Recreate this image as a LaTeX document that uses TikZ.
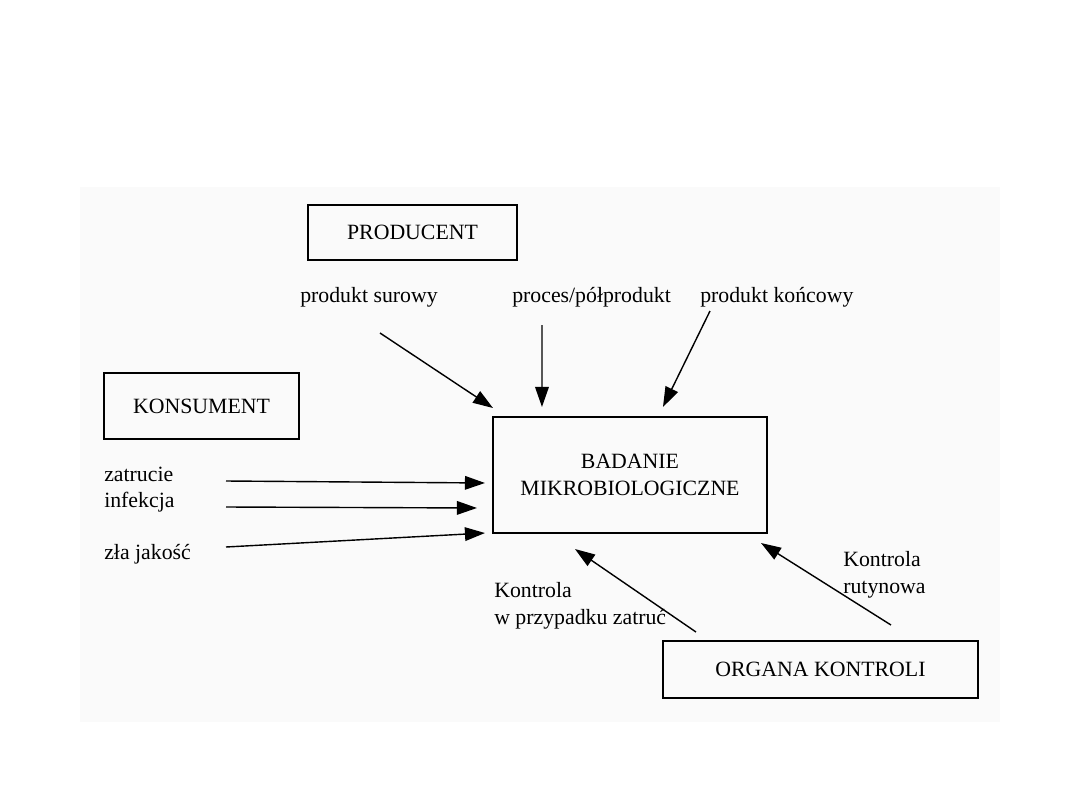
\documentclass[tikz,border=0pt]{standalone}
\usepackage{fontspec}
\setmainfont{Liberation Serif}
\usetikzlibrary{arrows.meta,calc}

\begin{document}
\begin{tikzpicture}[
      x=0.025cm,y=-0.025cm,
      box/.style={draw,line width=0.9pt,inner sep=0pt,outer sep=0pt,align=center,
                  font=\fontsize{15.5}{19}\selectfont},
      lbl/.style={inner sep=0pt,align=left,anchor=base west,
                  font=\fontsize{15.5}{18.5}\selectfont},
      >={Triangle[length=5mm,width=3.4mm]}]
    \useasboundingbox (0,0) rectangle (1080,810);
    \fill[black!2] (80,187) rectangle (1000,722);
    % boxes
    \node[box,minimum width=5.225cm,minimum height=1.375cm] (prod) at (412.5,232.5) {PRODUCENT};
    \node[box,minimum width=4.875cm,minimum height=1.65cm]  (kons) at (201.5,406) {KONSUMENT};
    \node[box,minimum width=6.85cm,minimum height=2.9cm]    (bad)  at (630,475) {BADANIE\\MIKROBIOLOGICZNE};
    \node[box,minimum width=7.875cm,minimum height=1.425cm] (org)  at (820.5,669.5) {ORGANA KONTROLI};
    % labels (multi-line ones sit on their last baseline)
    \node[lbl] (surowy) at (300,302) {produkt surowy};
    \node[lbl] (proces) at (512,302) {proces/półprodukt};
    \node[lbl] (koniec) at (700,302) {produkt końcowy};
    \node[lbl] (zatr)   at (104,481) {zatrucie};
    \node[lbl] (infek)  at (104,507) {infekcja};
    \node[lbl] (jakosc) at (104,559) {zła jakość};
    \node[lbl] (kzatr)  at (494,624) {Kontrola\\w przypadku zatruć};
    \node[lbl] (krut)   at (843,593) {Kontrola\\rutynowa};
    % arrow tails
    \coordinate (surowyA) at (380,333);
    \coordinate (procesA) at (542,325);
    \coordinate (koniecA) at (710,311);
    \coordinate (zatrA)   at (226,481);
    \coordinate (infekA)  at (226,507);
    \coordinate (jakoscA) at (226,547);
    \coordinate (kzatrA)  at ($(org.north west)+(33,-9)$);
    \coordinate (krutA)   at ($(org.north west)+(228,-16)$);
    % arrows
    \begin{scope}[line width=1pt]
    \draw[->] (surowyA) -- ($(bad.north west)+(0,-9)$);
    \draw[->] (procesA) -- ($(bad.north west)+(49,-10)$);
    \draw[->] (koniecA) -- ($(bad.north west)+(170,-10)$);
    \draw[->] (zatrA)   -- ($(bad.north west)+(-8,66)$);
    \draw[->] (infekA)  -- ($(bad.north west)+(-16,91)$);
    \draw[->] (jakoscA) -- ($(bad.south west)+(-8,0)$);
    \draw[->] (kzatrA)  -- ($(bad.south west)+(82,16)$);
    \draw[->] (krutA)   -- ($(bad.south east)+(-6,10)$);
    \end{scope}
  \end{tikzpicture}
\end{document}
